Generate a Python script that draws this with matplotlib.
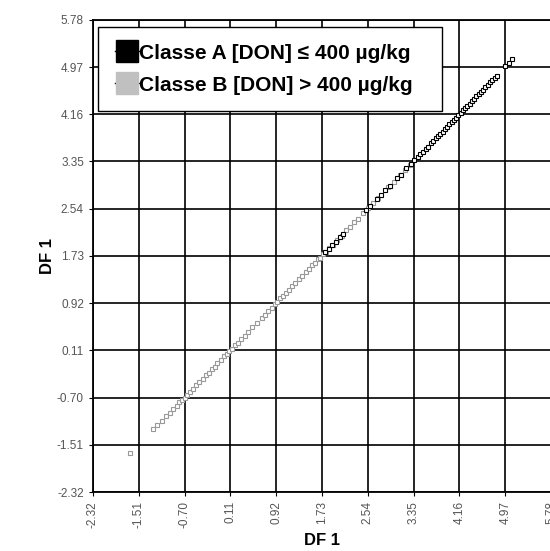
import matplotlib.pyplot as plt
from matplotlib.lines import Line2D

plt.rcParams['font.family'] = ['Liberation Sans', 'DejaVu Sans']

ticks = [-2.32, -1.51, -0.70, 0.11, 0.92, 1.73, 2.54, 3.35, 4.16, 4.97, 5.78]
tick_labels = ['-2.32', '-1.51', '-0.70', '0.11', '0.92', '1.73', '2.54', '3.35', '4.16', '4.97', '5.78']

# classe B (gris)
b_x = [-1.67, -1.26, -1.18, -1.10, -1.03, -0.96, -0.90, -0.84, -0.79, -0.75, -0.70,
       -0.66, -0.61, -0.55, -0.50, -0.44, -0.38, -0.33, -0.27, -0.22, -0.17, -0.12,
       -0.06, 0.00, 0.05, 0.09, 0.14, 0.19, 0.24, 0.30, 0.36, 0.42, 0.50, 0.58, 0.66,
       0.72, 0.78, 0.84, 0.89, 0.94, 0.99, 1.04, 1.09, 1.14, 1.20, 1.26, 1.32, 1.38,
       1.44, 1.50, 1.56, 1.61, 1.66, 1.70, 1.75, 1.80, 1.86, 1.92, 2.00, 2.08, 2.16,
       2.22, 2.30, 2.36, 2.45, 2.55, 2.63, 2.72, 2.90, 3.00, 3.10, 3.20, 3.28]
b_y = [-1.65, -1.24, -1.17, -1.10, -1.02, -0.96, -0.89, -0.84, -0.78, -0.74, -0.70,
       -0.65, -0.61, -0.55, -0.49, -0.44, -0.38, -0.32, -0.27, -0.21, -0.17, -0.11,
       -0.06, 0.01, 0.05, 0.10, 0.14, 0.20, 0.24, 0.31, 0.36, 0.43, 0.51, 0.58, 0.67,
       0.72, 0.79, 0.84, 0.90, 0.94, 1.00, 1.04, 1.10, 1.14, 1.21, 1.26, 1.33, 1.38,
       1.45, 1.50, 1.57, 1.61, 1.67, 1.70, 1.76, 1.80, 1.87, 1.92, 2.01, 2.08, 2.17,
       2.22, 2.31, 2.36, 2.46, 2.55, 2.64, 2.72, 2.91, 3.00, 3.11, 3.20, 3.29]

# classe A (noir)
a_x = [1.78, 1.85, 1.90, 1.97, 2.05, 2.10, 2.50, 2.58, 2.70, 2.78, 2.85, 2.93, 3.05,
       3.12, 3.22, 3.30, 3.36, 3.42, 3.47, 3.52, 3.56, 3.60, 3.65, 3.70, 3.74, 3.78,
       3.82, 3.86, 3.90, 3.94, 3.98, 4.02, 4.06, 4.10, 4.14, 4.18, 4.22, 4.26, 4.30,
       4.34, 4.38, 4.42, 4.46, 4.50, 4.54, 4.58, 4.62, 4.66, 4.70, 4.74, 4.78, 4.82,
       4.97, 5.04, 5.09]
a_y = [1.79, 1.85, 1.91, 1.97, 2.06, 2.10, 2.51, 2.58, 2.71, 2.78, 2.86, 2.93, 3.06,
       3.12, 3.23, 3.30, 3.37, 3.42, 3.48, 3.52, 3.57, 3.60, 3.66, 3.70, 3.75, 3.78,
       3.83, 3.86, 3.91, 3.94, 3.99, 4.02, 4.07, 4.10, 4.15, 4.18, 4.23, 4.26, 4.31,
       4.34, 4.39, 4.42, 4.47, 4.50, 4.55, 4.58, 4.63, 4.66, 4.71, 4.74, 4.79, 4.82,
       4.98, 5.04, 5.10]

fig = plt.figure(figsize=(5.5, 5.51), dpi=100)
ax = fig.add_axes([0.169, 0.107, 0.833, 0.857])

ax.plot(b_x, b_y, 's', ms=3.2, mfc='white', mec='#999999', mew=0.8, zorder=3)
ax.plot(a_x, a_y, 's', ms=3.2, mfc='white', mec='black', mew=0.8, zorder=4)

ax.set_xlim(-2.32, 5.78)
ax.set_ylim(-2.32, 5.78)
ax.set_xticks(ticks)
ax.set_yticks(ticks)
ax.set_xticklabels(tick_labels, rotation=90)
ax.set_yticklabels(tick_labels)
ax.tick_params(labelsize=8.5, labelcolor='#555555', length=3, direction='out')
ax.grid(True, color='black', lw=1.2)
ax.set_axisbelow(True)
for s in ax.spines.values():
    s.set_linewidth(1.3)

ax.set_xlabel('DF 1', fontsize=12, fontweight='bold', va='center')
ax.set_ylabel('DF 1', fontsize=12, fontweight='bold', va='center')
ax.xaxis.set_label_coords(0.5, -0.102)
ax.yaxis.set_label_coords(-0.1, 0.5)

handles = [
    Line2D([0], [0], color='black', lw=1, marker='s', ms=16, mfc='black', mec='black'),
    Line2D([0], [0], color='black', lw=1, marker='s', ms=16, mfc='#c0c0c0', mec='#c0c0c0'),
]
leg = ax.legend(handles, ['Classe A [DON] \u2264 400 \u00b5g/kg', 'Classe B [DON] > 400 \u00b5g/kg'],
                loc='upper left', bbox_to_anchor=(0.011, 0.80, 0.751, 0.185), mode='expand',
                fancybox=False, framealpha=1, edgecolor='black', handlelength=1.15,
                handletextpad=0.0, labelspacing=0.62, borderpad=0.8, borderaxespad=0,
                prop={'size': 15, 'weight': 'bold'})
leg.get_frame().set_linewidth(1.0)
leg.set_zorder(10)

fig.savefig('out.png', dpi=100)
